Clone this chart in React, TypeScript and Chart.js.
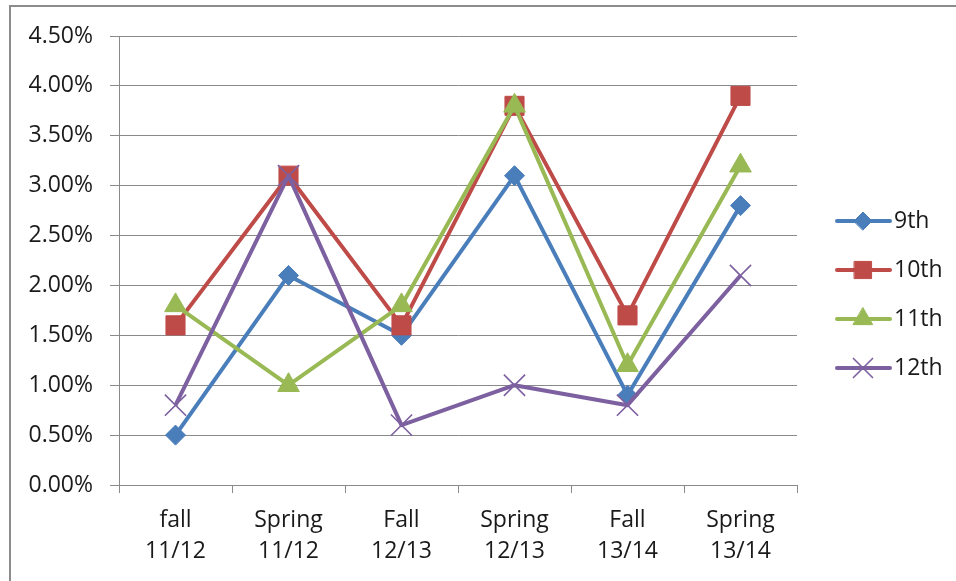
import React, { useEffect, useRef } from "react";
import { Chart, registerables } from "chart.js";
import { drawPoint } from "chart.js/helpers";

Chart.register(...registerables);

const terms: string[][] = [
  ["fall", "11/12"],
  ["Spring", "11/12"],
  ["Fall", "12/13"],
  ["Spring", "12/13"],
  ["Fall", "13/14"],
  ["Spring", "13/14"],
];

const grade9 = [0.5, 2.1, 1.5, 3.1, 0.9, 2.8];
const grade10 = [1.6, 3.1, 1.6, 3.8, 1.7, 3.9];
const grade11 = [1.8, 1.0, 1.8, 3.8, 1.2, 3.2];
const grade12 = [0.8, 3.1, 0.6, 1.0, 0.8, 2.1];

const seriesNames = ["9th", "10th", "11th", "12th"];
const seriesColors = ["#4A7EBB", "#BE4B48", "#98B954", "#7D60A0"];

const FONT = "'Open Sans', sans-serif";
const TEXT = "#1a1a1a";
const GRID = "#8a8a8a";

// Outer frame and white background
const framePlugin = {
  id: "frame",
  beforeDraw(chart: any) {
    const ctx = chart.ctx;
    ctx.save();
    ctx.fillStyle = "#ffffff";
    ctx.fillRect(0, 0, chart.width, chart.height);
    ctx.strokeStyle = "#8c8c8c";
    ctx.lineWidth = 2;
    ctx.beginPath();
    ctx.moveTo(10, chart.height);
    ctx.lineTo(10, 6);
    ctx.lineTo(chart.width, 6);
    ctx.stroke();
    ctx.restore();
  },
};

// Legend with line + marker samples on the right
const lineLegendPlugin = {
  id: "lineLegend",
  afterDraw(chart: any) {
    const ctx = chart.ctx;
    ctx.save();
    chart.data.datasets.forEach((ds: any, i: number) => {
      const y = 221 + i * 49;
      ctx.strokeStyle = ds.borderColor;
      ctx.lineWidth = 4;
      ctx.lineCap = "round";
      ctx.beginPath();
      ctx.moveTo(837, y);
      ctx.lineTo(890, y);
      ctx.stroke();
      ctx.fillStyle = ds.pointBackgroundColor;
      ctx.strokeStyle = ds.pointBorderColor;
      ctx.lineWidth = ds.pointBorderWidth;
      drawPoint(ctx, { pointStyle: ds.pointStyle, radius: ds.pointRadius * 0.9, rotation: 0, borderWidth: ds.pointBorderWidth }, 863, y);
      ctx.fillStyle = TEXT;
      ctx.font = `23px ${FONT}`;
      ctx.textBaseline = "middle";
      ctx.textAlign = "left";
      ctx.fillText(ds.label, 894, y);
    });
    ctx.restore();
  },
};

export default function App() {
  const canvasRef = useRef<HTMLCanvasElement | null>(null);

  useEffect(() => {
    if (!canvasRef.current) return;
    const values = [grade9, grade10, grade11, grade12];
    const styles = ["rectRot", "rect", "triangle", "crossRot"];
    const radii = [10, 13.5, 12.5, 15];
    const chart = new Chart(canvasRef.current, {
      type: "line",
      data: {
        labels: terms,
        datasets: values.map((v, i) => ({
          label: seriesNames[i],
          data: v,
          borderColor: seriesColors[i],
          backgroundColor: seriesColors[i],
          pointBackgroundColor: seriesColors[i],
          pointBorderColor: seriesColors[i],
          pointBorderWidth: i === 3 ? 1.6 : 1,
          pointStyle: styles[i],
          pointRadius: radii[i],
          borderWidth: 4,
          borderJoinStyle: "round",
          tension: 0,
          fill: false,
          order: 4 - i,
        })),
      },
      options: {
        animation: false,
        responsive: false,
        maintainAspectRatio: false,
        layout: { padding: { top: 36, right: 159, bottom: 0, left: 0 } },
        plugins: {
          legend: { display: false },
          tooltip: { enabled: false },
        },
        scales: {
          x: {
            offset: true,
            grid: {
              display: true,
              offset: true,
              drawOnChartArea: false,
              drawTicks: true,
              tickLength: 8,
              color: GRID,
            },
            border: { color: GRID, width: 1 },
            ticks: {
              color: TEXT,
              font: { family: FONT, size: 23, lineHeight: 1.35 },
              padding: 12,
              maxRotation: 0,
              autoSkip: false,
            },
            afterFit(scale: any) {
              scale.height = 96;
            },
          },
          y: {
            min: 0,
            max: 4.5,
            grid: {
              color: GRID,
              lineWidth: 1,
              tickLength: 9,
            },
            border: { color: GRID, width: 1 },
            ticks: {
              stepSize: 0.5,
              color: TEXT,
              font: { family: FONT, size: 23 },
              padding: 17,
              callback: (v: any) => Number(v).toFixed(2) + "%",
            },
            afterFit(scale: any) {
              scale.width = 119;
            },
          },
        },
      },
      plugins: [framePlugin, lineLegendPlugin],
    } as any);
    return () => chart.destroy();
  }, []);

  return (
    <div style={{ position: "fixed", left: 0, top: 0, width: 956, height: 581, background: "#fff" }}>
      <canvas ref={canvasRef} width={956} height={581} style={{ display: "block", width: 956, height: 581 }} />
    </div>
  );
}
